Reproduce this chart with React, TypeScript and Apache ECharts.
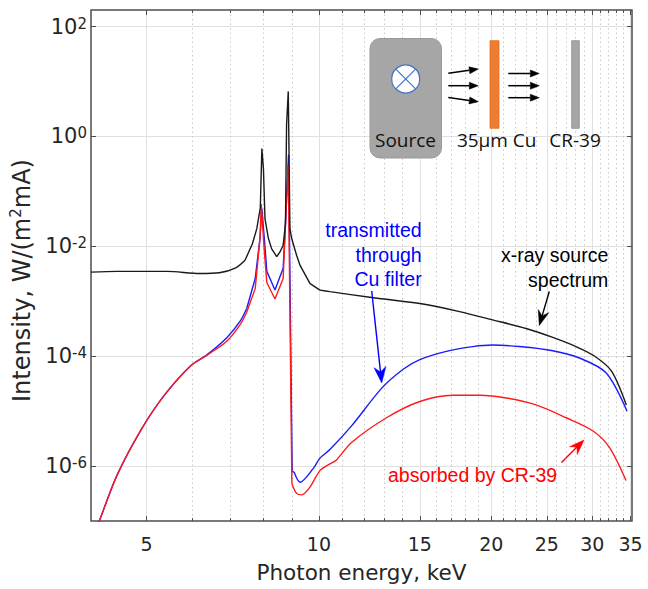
import React, { useEffect, useRef } from "react";
import * as echarts from "echarts";

// ---- axis ranges / ticks ----
const xMin = 4;
const xMax = 35.2;
const yMin = 1e-7;
const yMax = 200;
const xMajorTicks = [5, 10, 15, 20, 25, 30, 35];
const xMinorTicks = [6, 7, 8, 9, 11, 12, 13, 14, 16, 17, 18, 19, 21, 22, 23, 24, 26, 27, 28, 29, 31, 32, 33, 34];
const yTicks = [1e-6, 1e-4, 1e-2, 1, 100];

// ---- x-ray source spectrum (black) ----
const sourceEnergy = [4.0, 4.44, 5.43, 6.2, 6.7, 7.14, 7.43, 7.65, 7.79, 7.9, 7.95, 8.0, 8.05, 8.16, 8.27, 8.44, 8.55, 8.66, 8.74, 8.78, 8.84, 8.9, 8.96, 9.14, 9.27, 9.65, 10.04, 10.45, 12.36, 15.0, 17.6, 20.1, 23.0, 25.6, 28.1, 30.3, 32.4, 34.4];
const sourceIntensity = [3.4e-3, 3.5e-3, 3.5e-3, 3.2e-3, 3.3e-3, 4.0e-3, 5.6e-3, 1.1e-2, 2.1e-2, 5.0e-2, 0.6, 0.26, 3.2e-2, 1.4e-2, 9.0e-3, 6.5e-3, 7.9e-3, 1.05e-2, 2.5e-2, 1.65, 6.6, 2.1e-2, 1.4e-2, 6.9e-3, 4.5e-3, 2.1e-3, 1.6e-3, 1.5e-3, 1.17e-3, 9.1e-4, 6.5e-4, 4.6e-4, 3.2e-4, 2.2e-4, 1.5e-4, 1.0e-4, 5.4e-5, 1.3e-5];
const sourceBreaks = [6, 26];

// ---- transmitted through Cu filter (blue) ----
const transEnergy = [4.1, 4.15, 4.44, 4.88, 5.36, 5.96, 6.38, 6.91, 7.29, 7.48, 7.74, 7.89, 7.95, 8.05, 8.11, 8.38, 8.66, 8.72, 8.85, 8.98, 9.05, 9.27, 9.77, 10.04, 10.45, 11.4, 12.86, 14.03, 15.0, 16.69, 18.57, 20.1, 22.39, 25.6, 28.49, 31.71, 34.5];
const transIntensity = [7.9e-8, 1.1e-7, 6.8e-7, 4.4e-6, 1.9e-5, 6.6e-5, 1.07e-4, 2.2e-4, 4.4e-4, 7.4e-4, 2.6e-3, 1.4e-2, 4.8e-2, 9.8e-3, 3.5e-3, 1.6e-3, 4.0e-3, 1.6e-2, 0.47, 8.0e-7, 7.8e-7, 5.1e-7, 9.0e-7, 1.4e-6, 2.0e-6, 5.4e-6, 2.6e-5, 5.8e-5, 8.7e-5, 1.23e-4, 1.5e-4, 1.6e-4, 1.5e-4, 1.26e-4, 9.3e-5, 5.0e-5, 1.0e-5];
const transBreaks = [9, 20];

// ---- absorbed by CR-39 (red) ----
const absEnergy = [4.1, 4.15, 4.44, 4.88, 5.36, 5.96, 6.38, 6.91, 7.29, 7.48, 7.74, 7.89, 7.93, 8.03, 8.11, 8.38, 8.66, 8.72, 8.84, 8.97, 9.14, 9.33, 9.65, 10.04, 10.45, 10.73, 11.4, 13.12, 15.0, 17.14, 19.08, 21.23, 23.94, 27.01, 30.05, 32.14, 34.36];
const absIntensity = [7.9e-8, 1.1e-7, 6.8e-7, 4.4e-6, 1.9e-5, 6.6e-5, 1.05e-4, 1.9e-4, 3.8e-4, 6.3e-4, 1.7e-3, 1.4e-2, 5.9e-2, 7.9e-3, 2.2e-3, 1.1e-3, 2.6e-3, 1.4e-2, 0.30, 4.8e-7, 3.2e-7, 3.0e-7, 4.2e-7, 8.3e-7, 1.1e-6, 1.3e-6, 2.7e-6, 7.6e-6, 1.5e-5, 1.95e-5, 1.95e-5, 1.74e-5, 1.3e-5, 7.6e-6, 4.4e-6, 2.2e-6, 5.5e-7];
const absBreaks = [9, 19];

const FONT = "'Liberation Sans', Arial, sans-serif";
const AXIS_FONT = "'DejaVu Sans', sans-serif";
const INSET_FONT = "'Open Sans', 'Noto Sans', sans-serif";
const AXIS_COLOR = "#4d4d4d";
const LABEL_COLOR = "#262626";

function zip(xs: number[], ys: number[]) {
  return xs.map((x, i) => [x, ys[i]]);
}

// one curve as smooth / sharp / smooth pieces (sharp part holds the emission lines and K-edge)
function curveSeries(name: string, xs: number[], ys: number[], breaks: number[], color: string, z: number) {
  const pts = zip(xs, ys);
  const parts = [
    { data: pts.slice(0, breaks[0] + 1), smooth: 0.3 },
    { data: pts.slice(breaks[0], breaks[1] + 1), smooth: false },
    { data: pts.slice(breaks[1]), smooth: 0.3 },
  ];
  return parts.map((p, i) => ({
    name: `${name}-${i}`,
    type: "line",
    xAxisIndex: 0,
    yAxisIndex: 0,
    data: p.data,
    smooth: p.smooth,
    showSymbol: false,
    symbol: "none",
    clip: true,
    lineStyle: { color, width: 1.4 },
    z,
  }));
}

function arrow(x0: number, y0: number, x1: number, y1: number, color: string, L: number, W: number, notch: number, lw: number) {
  const dx = x1 - x0;
  const dy = y1 - y0;
  const len = Math.sqrt(dx * dx + dy * dy);
  const ux = dx / len;
  const uy = dy / len;
  const px = -uy;
  const py = ux;
  const bx = x1 - L * ux;
  const by = y1 - L * uy;
  const nx = x1 - (L - notch) * ux;
  const ny = y1 - (L - notch) * uy;
  return [
    {
      type: "line",
      z: 100,
      shape: { x1: x0, y1: y0, x2: nx, y2: ny },
      style: { stroke: color, lineWidth: lw },
      silent: true,
    },
    {
      type: "polygon",
      z: 100,
      shape: {
        points: [
          [x1, y1],
          [bx + (W / 2) * px, by + (W / 2) * py],
          [nx, ny],
          [bx - (W / 2) * px, by - (W / 2) * py],
        ],
      },
      style: { fill: color, stroke: color, lineWidth: 0.5 },
      silent: true,
    },
  ];
}

function inset() {
  const els: any[] = [];
  els.push({
    type: "rect",
    z: 100,
    shape: { x: 370, y: 38.5, width: 71.5, height: 119.5, r: 10 },
    style: { fill: "#a6a6a6", stroke: "#999999", lineWidth: 1 },
    silent: true,
  });
  els.push({
    type: "circle",
    z: 100,
    shape: { cx: 405.7, cy: 79, r: 14 },
    style: { fill: "#ffffff", stroke: "#4472c4", lineWidth: 1.2 },
    silent: true,
  });
  const d = 14 * 0.7071;
  els.push({ type: "line", z: 101, shape: { x1: 405.7 - d, y1: 79 - d, x2: 405.7 + d, y2: 79 + d }, style: { stroke: "#4472c4", lineWidth: 1.2 }, silent: true });
  els.push({ type: "line", z: 101, shape: { x1: 405.7 - d, y1: 79 + d, x2: 405.7 + d, y2: 79 - d }, style: { stroke: "#4472c4", lineWidth: 1.2 }, silent: true });
  els.push({
    type: "rect",
    z: 100,
    shape: { x: 490, y: 40.7, width: 9, height: 87.6 },
    style: { fill: "#ed7d31", stroke: "#e07020", lineWidth: 0.8 },
    silent: true,
  });
  els.push({
    type: "rect",
    z: 100,
    shape: { x: 571.7, y: 40.7, width: 7.6, height: 87.6 },
    style: { fill: "#a6a6a6", stroke: "#8c8c8c", lineWidth: 0.8 },
    silent: true,
  });
  // arrows in the sketch
  els.push(...arrow(448.3, 73.3, 478.3, 69, "#000", 9, 7, 0, 1.5));
  els.push(...arrow(448.3, 85.7, 478.3, 85.7, "#000", 9, 7, 0, 1.5));
  els.push(...arrow(448.3, 97.5, 478.3, 101.7, "#000", 9, 7, 0, 1.5));
  els.push(...arrow(508.3, 73.5, 539.3, 73.5, "#000", 9, 7, 0, 1.5));
  els.push(...arrow(508.3, 85.7, 539.3, 85.7, "#000", 9, 7, 0, 1.5));
  els.push(...arrow(508.3, 97.7, 539.3, 97.7, "#000", 9, 7, 0, 1.5));
  const label = (text: string, x: number) => ({
    type: "text",
    z: 102,
    style: { text, x, y: 140, align: "center", verticalAlign: "middle", font: `19px ${INSET_FONT}`, fill: "#111111" },
    silent: true,
  });
  els.push(label("Source", 405.5));
  els.push(label("35µm Cu", 496.7));
  els.push(label("CR-39", 575));
  return els;
}

function annotations() {
  const els: any[] = [];
  els.push({
    type: "text",
    z: 100,
    style: {
      text: "transmitted\nthrough\nCu filter",
      x: 421.7,
      y: 254.5,
      align: "right",
      verticalAlign: "middle",
      font: `19.5px ${FONT}`,
      lineHeight: 24.5,
      fill: "#0000ff",
    },
    silent: true,
  });
  els.push({
    type: "text",
    z: 100,
    style: {
      text: "x-ray source\nspectrum",
      x: 608.3,
      y: 267,
      align: "right",
      verticalAlign: "middle",
      font: `19.5px ${FONT}`,
      lineHeight: 25,
      fill: "#000000",
    },
    silent: true,
  });
  els.push({
    type: "text",
    z: 100,
    style: {
      text: "absorbed by CR-39",
      x: 388,
      y: 475,
      align: "left",
      verticalAlign: "middle",
      font: `19.5px ${FONT}`,
      fill: "#ff0000",
    },
    silent: true,
  });
  els.push(...arrow(371.7, 291, 381.7, 383, "#0000ff", 16, 12, 5, 1.4));
  els.push(...arrow(549.3, 291.5, 539.3, 325.5, "#000000", 15, 11, 5, 1.4));
  els.push(...arrow(561.5, 462.5, 584, 440, "#ff0000", 15, 11, 5, 1.4));
  return els;
}

export default function App() {
  const ref = useRef<HTMLDivElement>(null);
  useEffect(() => {
    if (!ref.current) return;
    const chart = echarts.init(ref.current, undefined, { renderer: "svg" });
    const baseX = {
      type: "log",
      min: xMin,
      max: xMax,
      logBase: 10,
      axisLine: { show: false },
      splitLine: { show: false },
      axisLabel: { show: false },
    };
    const option: any = {
      animation: false,
      backgroundColor: "#ffffff",
      grid: {
        left: 91,
        right: 16,
        top: 10,
        bottom: 67,
        show: true,
        borderColor: AXIS_COLOR,
        borderWidth: 1.5,
        backgroundColor: "transparent",
      },
      xAxis: [
        {
          ...baseX,
          position: "bottom",
          name: "Photon energy, keV",
          nameLocation: "middle",
          nameGap: 38,
          nameTextStyle: { fontFamily: AXIS_FONT, fontSize: 21.5, color: LABEL_COLOR, lineHeight: 24 },
          axisTick: { show: true, inside: true, length: 5, customValues: xMajorTicks, lineStyle: { color: AXIS_COLOR, width: 1 } },
          axisLabel: {
            show: true,
            customValues: xMajorTicks,
            margin: 12,
            fontFamily: AXIS_FONT,
            fontSize: 19,
            lineHeight: 22,
            color: LABEL_COLOR,
            formatter: (v: number) => String(Math.round(v)),
          },
          splitLine: { show: true, lineStyle: { color: "#e0e0e0", width: 1 } },
        },
        {
          ...baseX,
          position: "bottom",
          axisTick: { show: true, inside: true, length: 3, customValues: xMinorTicks, lineStyle: { color: AXIS_COLOR, width: 1 } },
          splitLine: { show: true, lineStyle: { color: "#c8c8c8", width: 1, type: [1.5, 3] } },
        },
        {
          ...baseX,
          position: "top",
          axisTick: { show: true, inside: true, length: 5, customValues: xMajorTicks, lineStyle: { color: AXIS_COLOR, width: 1 } },
        },
        {
          ...baseX,
          position: "top",
          axisTick: { show: true, inside: true, length: 3, customValues: xMinorTicks, lineStyle: { color: AXIS_COLOR, width: 1 } },
        },
      ],
      yAxis: [
        {
          type: "log",
          logBase: 10,
          min: yMin,
          max: yMax,
          position: "left",
          axisLine: { show: false },
          name: "{a|Intensity, W/(m}{s|2}{a|mA)}",
          nameLocation: "middle",
          nameGap: 53,
          nameTextStyle: {
            color: LABEL_COLOR,
            padding: [0, 30, 0, 0],
            rich: {
              a: { fontFamily: AXIS_FONT, fontSize: 24, color: LABEL_COLOR, lineHeight: 26, verticalAlign: "bottom", padding: [2, 0, 0, 0] },
              s: { fontFamily: AXIS_FONT, fontSize: 15, color: LABEL_COLOR, lineHeight: 15, verticalAlign: "top" },
            },
          },
          axisTick: { show: true, inside: true, length: 5, customValues: yTicks, lineStyle: { color: AXIS_COLOR, width: 1 } },
          axisLabel: {
            show: true,
            customValues: yTicks,
            margin: 4,
            formatter: (v: number) => {
              const e = Math.round(Math.log10(v));
              return `{b|10}{s|${e}}`;
            },
            rich: {
              b: { fontFamily: AXIS_FONT, fontSize: 21, color: LABEL_COLOR, lineHeight: 21, verticalAlign: "bottom", padding: [7, 0, 0, 0] },
              s: { fontFamily: AXIS_FONT, fontSize: 15, color: LABEL_COLOR, lineHeight: 15, verticalAlign: "top" },
            },
          },
          splitLine: { show: true, lineStyle: { color: "#e0e0e0", width: 1 } },
        },
        {
          type: "log",
          logBase: 10,
          min: yMin,
          max: yMax,
          position: "right",
          axisLine: { show: false },
          axisLabel: { show: false },
          splitLine: { show: false },
          axisTick: { show: true, inside: true, length: 5, customValues: yTicks, lineStyle: { color: AXIS_COLOR, width: 1 } },
        },
      ],
      series: [
        ...curveSeries("transmitted", transEnergy, transIntensity, transBreaks, "#1a1aff", 3),
        ...curveSeries("absorbed", absEnergy, absIntensity, absBreaks, "#ff1a1a", 4),
        ...curveSeries("source", sourceEnergy, sourceIntensity, sourceBreaks, "#1a1a1a", 5),
      ],
      graphic: { elements: [...inset(), ...annotations()] },
    };
    chart.setOption(option);
    return () => chart.dispose();
  }, []);
  return (
    <div
      ref={ref}
      style={{ position: "absolute", left: 0, top: 0, width: 648, height: 589, background: "#fff" }}
    />
  );
}
